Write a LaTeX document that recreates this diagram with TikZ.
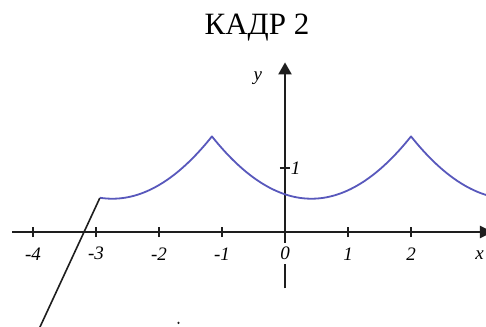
\documentclass[tikz,border=0pt]{standalone}
\usepackage{fontspec}
\setmainfont{Liberation Serif}
\usetikzlibrary{arrows.meta}
\definecolor{curveblue}{RGB}{88,88,188}
\definecolor{axisgray}{RGB}{30,30,30}
\tikzset{
  axisline/.style={draw=axisgray, line width=2.2pt},
  ticklabel/.style={font=\fontsize{19}{19}\selectfont\itshape, inner sep=1pt},
  curve/.style={draw=curveblue, line width=1.8pt, line join=round},
  blackline/.style={draw=axisgray, line width=1.6pt},
  tick/.style={draw=axisgray, line width=1.6pt}
}
\begin{document}
\begin{tikzpicture}[x=1pt,y=1pt]
\useasboundingbox (0,0) rectangle (486,326);
\fill[white] (0,0) rectangle (486,326);
\node[font=\fontsize{31}{31}\selectfont, inner sep=0pt] (title) at (257,298) {КАДР 2};
\begin{scope}[shift={(285,94)}, x=63pt, y=64pt]
  % y axis
  \coordinate (ybot) at (0,-0.88);
  \coordinate (ytop) at (0,2.65);
  \draw[axisline, -{Triangle[width=13pt,length=12pt]}] (ybot) -- (ytop);
  % x axis
  \coordinate (xl) at (-4.33,0);
  \coordinate (xr) at (3.3,0);
  \draw[axisline, -{Triangle[width=12pt,length=13pt]}] (xl) -- (xr);
  % ticks
  \foreach \i in {-4,-3,-2,-1,1,2} {
    \draw[tick] (\i,-0.08) -- (\i,0.08);
  }
  \draw[tick] (-0.08,1) -- (0.08,1);
  % labels
  \foreach \i/\t in {-4/-4,-3/-3,-2/-2,-1/-1,1/1,2/2} {
    \node[ticklabel] (lx\i) at (\i,-0.34) {\t};
  }
  \node[ticklabel, fill=white, inner ysep=4pt] (l0) at (0,-0.34) {0};
  \node[ticklabel] (lxx) at (3.09,-0.36) {x};
  \node[ticklabel] (ly) at (-0.43,2.4) {y};
  \node[ticklabel] (l1y) at (0.17,1.0) {1};
  % curve
  \draw[curve] plot[domain=-2.94:-1.16, samples=40] (\x,{0.52+0.39*(\x+2.74)^2})
    -- plot[domain=-1.16:2.0, samples=60] (\x,{0.52+0.39*(\x-0.42)^2})
    -- plot[domain=2.0:3.25, samples=30] (\x,{0.52+0.39*(\x-3.58)^2});
  % black line
  \coordinate (ls) at (-2.94,0.53);
  \coordinate (le) at (-3.92,-1.55);
  \draw[blackline] (ls) -- (le);
  % dot
  \fill[axisgray] (-1.69,-1.42) circle (1.2pt);
\end{scope}
\end{tikzpicture}
\end{document}
